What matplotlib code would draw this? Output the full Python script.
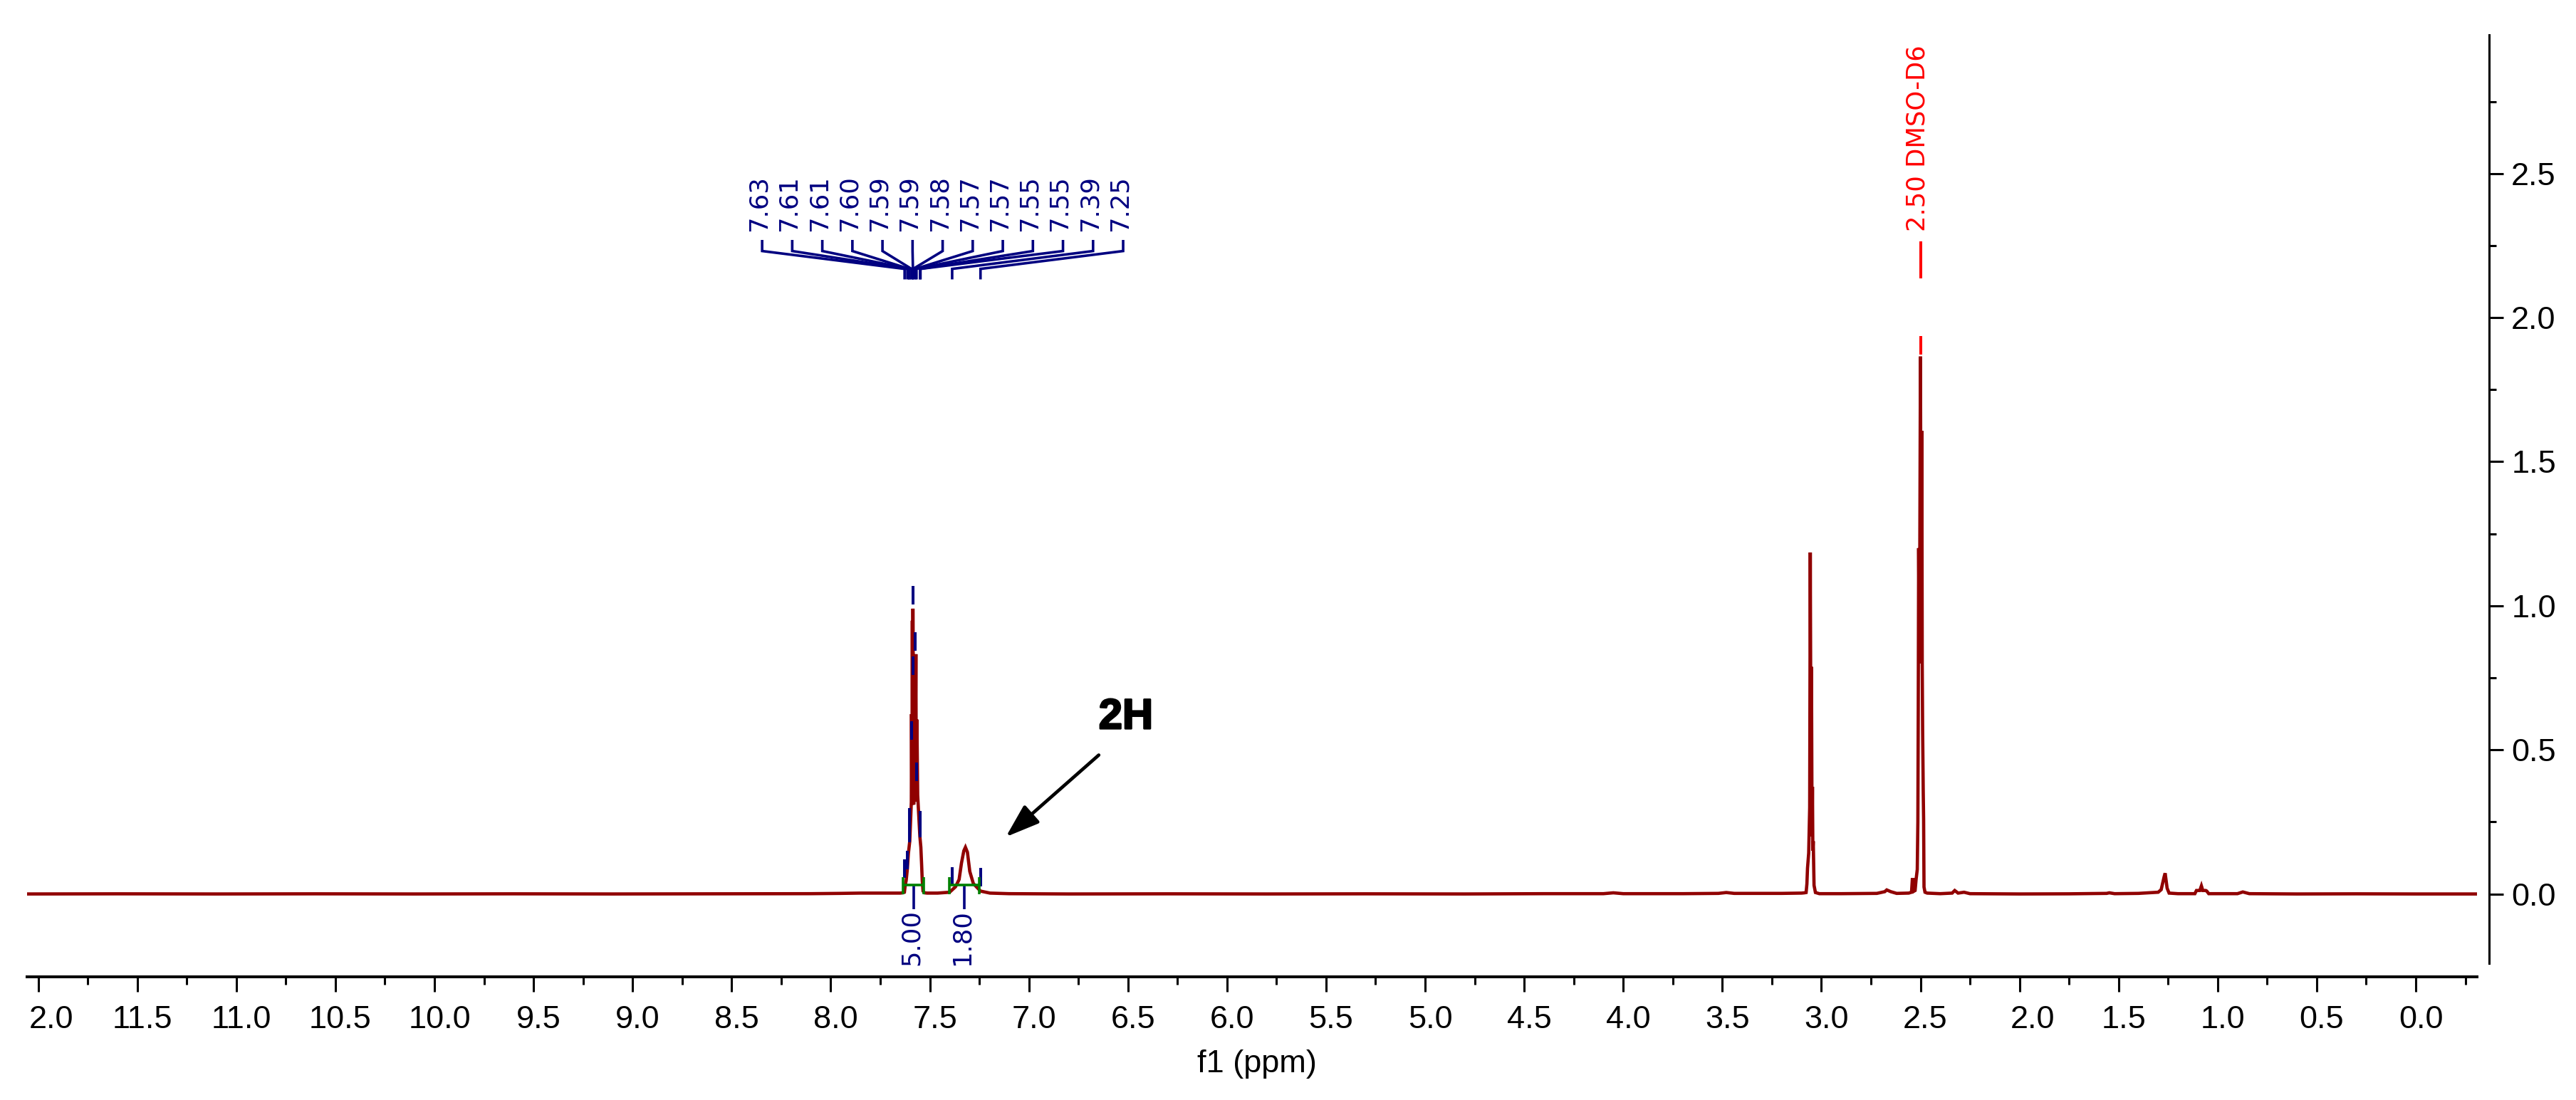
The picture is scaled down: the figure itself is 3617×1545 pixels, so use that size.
import numpy as np
import matplotlib
matplotlib.use('Agg')
import matplotlib.pyplot as plt
import matplotlib.patheffects as pe
from matplotlib.transforms import ScaledTranslation

# spectrum: ppm (falling) and intensity
base_left_ppm = [12.06, 11.6, 11.1, 10.6, 10.1, 9.6, 9.1, 8.7, 8.4, 8.1, 7.95, 7.85, 7.75, 7.68, 7.65]
base_left_y = [0.0, 0.0005, 0.0, 0.0005, 0.0, 0.0005, 0.0, 0.0005, 0.001, 0.001, 0.002, 0.003, 0.003, 0.003, 0.003]

h5_ppm = [7.635, 7.628, 7.624, 7.619, 7.613, 7.608, 7.601, 7.597, 7.593, 7.592, 7.590, 7.588, 7.586, 7.585,
          7.581, 7.577, 7.574, 7.570, 7.568, 7.565, 7.561, 7.556, 7.550, 7.545, 7.541, 7.538, 7.534, 7.527, 7.513]
h5_y = [0.004, 0.006, 0.03, 0.047, 0.088, 0.14, 0.183, 0.25, 0.319, 0.624, 0.31, 0.948, 0.31, 0.99,
        0.31, 0.817, 0.32, 0.832, 0.33, 0.605, 0.343, 0.278, 0.20, 0.162, 0.10, 0.047, 0.01, 0.004, 0.003]

h2_ppm = [7.46, 7.40, 7.37, 7.352, 7.340, 7.328, 7.320, 7.310, 7.298, 7.280, 7.244, 7.196, 7.10]
h2_y = [0.003, 0.006, 0.025, 0.05, 0.107, 0.15, 0.162, 0.145, 0.078, 0.036, 0.01, 0.003, 0.001]

base_mid_ppm = [6.8, 6.3, 5.8, 5.3, 4.8, 4.4, 4.1, 4.05, 4.0, 3.7, 3.52, 3.48, 3.44, 3.2, 3.1, 3.085]
base_mid_y = [0.0, 0.0005, 0.0, 0.0005, 0.0, 0.001, 0.001, 0.004, 0.001, 0.001, 0.002, 0.005, 0.002, 0.002, 0.003, 0.004]

h307_ppm = [3.077, 3.073, 3.070, 3.064, 3.059, 3.056, 3.052, 3.050, 3.047, 3.045, 3.043, 3.041, 3.037, 3.030, 3.01]
h307_y = [0.005, 0.035, 0.089, 0.142, 0.30, 1.185, 0.30, 0.788, 0.20, 0.372, 0.15, 0.183, 0.03, 0.005, 0.001]

gap_ppm = [2.9, 2.72, 2.68, 2.67, 2.65, 2.62, 2.57]
gap_y = [0.001, 0.002, 0.008, 0.014, 0.008, 0.002, 0.003]

dmso_ppm = [2.559, 2.545, 2.541, 2.536, 2.532, 2.527, 2.522, 2.516, 2.513, 2.511, 2.509, 2.505, 2.500,
            2.496, 2.493, 2.491, 2.489, 2.486, 2.484, 2.482, 2.477, 2.466]
dmso_y = [0.003, 0.006, 0.05, 0.05, 0.01, 0.012, 0.05, 0.085, 0.25, 0.646, 1.2, 0.80, 1.865,
          0.80, 1.607, 0.80, 0.57, 0.36, 0.26, 0.024, 0.006, 0.003]

base_right_ppm = [2.40, 2.34, 2.327, 2.31, 2.28, 2.25, 2.0, 1.75, 1.56, 1.547, 1.52, 1.40, 1.30, 1.285, 1.27, 1.265,
                  1.255, 1.245, 1.20, 1.115, 1.107, 1.09, 1.082, 1.075, 1.06, 1.055, 1.045, 0.90, 0.873, 0.84,
                  0.6, 0.3, 0.0, -0.31]
base_right_y = [0.001, 0.003, 0.012, 0.003, 0.006, 0.001, 0.0, 0.0005, 0.002, 0.004, 0.001, 0.002, 0.006, 0.015, 0.06, 0.072,
                0.02, 0.003, 0.001, 0.001, 0.012, 0.012, 0.028, 0.012, 0.012, 0.01, 0.001, 0.001, 0.007, 0.001,
                0.0, 0.0005, 0.0, 0.0]

# peak picks: labels, where each pick sits, and the height its little tick starts from
pick_labels = ['7.63', '7.61', '7.61', '7.60', '7.59', '7.59', '7.58', '7.57', '7.57', '7.55', '7.55', '7.39', '7.25']
pick_ppm = [7.627, 7.613, 7.604, 7.603, 7.592, 7.585, 7.584, 7.573, 7.567, 7.549, 7.547, 7.387, 7.244]
pick_y = [0.056, 0.085, 0.179, 0.234, 0.535, 1.005, 0.76, 0.845, 0.392, 0.224, 0.197, 0.029, 0.027]

# integrals
int_left = [7.634, 7.401]
int_right = [7.529, 7.249]
int_mark = [7.580, 7.324]
int_labels = ['5.00', '1.80']
int_label_ppm = [7.592, 7.339]

x_major = np.arange(0, 12.5, 0.5)
x_minor = np.arange(-0.25, 12.0, 0.5)
x_labels = ['%.1f' % v for v in x_major]
x_labels[-1] = '2.0'   # the leading 1 is cut off in the picture
y_major = [0.0, 0.5, 1.0, 1.5, 2.0, 2.5]
y_minor = [0.25, 0.75, 1.25, 1.75, 2.25, 2.75]

DARKRED = '#900000'
NAVY = '#000080'
GREEN = '#008000'
TICKFONT = 'Liberation Sans'

W, H = 3617, 1545
fig = plt.figure(figsize=(W / 100, H / 100), dpi=100)
ax = fig.add_axes([38 / W, 1 - 1353 / H, 3440 / W, 1304 / H])

ppm = base_left_ppm + h5_ppm + h2_ppm + base_mid_ppm + h307_ppm + gap_ppm + dmso_ppm + base_right_ppm
spec = base_left_y + h5_y + h2_y + base_mid_y + h307_y + gap_y + dmso_y + base_right_y
ax.plot(ppm, spec, color=DARKRED, lw=3.3, solid_joinstyle='miter', solid_capstyle='butt', zorder=3)

ax.set_xlim(12.056, -0.309)
ax.set_ylim(-0.2406, 2.981)

for s in ['top', 'left']:
    ax.spines[s].set_visible(False)
ax.spines['bottom'].set_position(('outward', 13.7))
ax.spines['right'].set_position(('outward', 12.2))
ax.spines['bottom'].set_linewidth(2.9)
ax.spines['right'].set_linewidth(2.2)

ax.yaxis.tick_right()
ax.set_xticks(x_major)
ax.set_xticks(x_minor, minor=True)
ax.set_xticklabels(x_labels, fontname=TICKFONT, fontsize=32.5)
ax.set_yticks(y_major)
ax.set_yticks(y_minor, minor=True)
ax.set_yticklabels(['%.1f' % v for v in y_major], fontname=TICKFONT, fontsize=32.5)
ax.tick_params(axis='x', which='major', length=15, width=2.2, pad=14)
ax.tick_params(axis='x', which='minor', length=8, width=2.2)
ax.tick_params(axis='y', which='major', length=14.5, width=2.2, pad=8)
ax.tick_params(axis='y', which='minor', length=7.5, width=2.2)

# x labels sit a little right of their ticks
for i, lab in enumerate(ax.get_xticklabels()):
    dx = 18 if lab.get_text() == '2.0' else 7
    lab.set_transform(lab.get_transform() + ScaledTranslation(dx / 100, 0, fig.dpi_scale_trans))

ax.set_xlabel('f1 (ppm)', fontname=TICKFONT, fontsize=32.5, labelpad=10)
ax.xaxis.set_label_coords(0.5020, -0.093)

# peak pick fan
fan_x = np.linspace(8.346, 6.524, len(pick_labels))
for lab, fx, p, py in zip(pick_labels, fan_x, pick_ppm, pick_y):
    ax.plot([fx, fx, p, p], [2.265, 2.231, 2.169, 2.137], color=NAVY, lw=2.6, solid_joinstyle='miter', zorder=4)
    ax.text(fx + 0.016, 2.298, lab, rotation=90, ha='center', va='bottom', color=NAVY, fontsize=25.5)
    ax.plot([p, p], [py, py + 0.064], color=NAVY, lw=2.9, solid_capstyle='butt', zorder=4)

# solvent label
ax.text(2.516, 2.298, '2.50 DMSO-D6', rotation=90, ha='center', va='bottom', color='#ff0000', fontsize=25.5)
ax.plot([2.50, 2.50], [2.265, 2.137], color='#ff0000', lw=2.9, solid_capstyle='butt')
ax.plot([2.50, 2.50], [1.937, 1.872], color='#ff0000', lw=2.9, solid_capstyle='butt')

# integrals
for l, r, m, txt, tx in zip(int_left, int_right, int_mark, int_labels, int_label_ppm):
    ax.plot([l, r], [0.03, 0.03], color=GREEN, lw=2.6, solid_capstyle='butt', zorder=5)
    ax.plot([l, l], [0.0, 0.058], color=GREEN, lw=2.6, solid_capstyle='butt', zorder=5)
    ax.plot([r, r], [0.0, 0.058], color=GREEN, lw=2.6, solid_capstyle='butt', zorder=5)
    ax.plot([m, m], [0.03, -0.053], color=NAVY, lw=2.6, solid_capstyle='butt', zorder=4)
    ax.text(tx, -0.053, txt, rotation=90, ha='center', va='top', color=NAVY, fontsize=25.5)

# 2H note
ax.annotate('', xy=(7.116, 0.198), xytext=(6.647, 0.482),
            arrowprops=dict(arrowstyle='-|>,head_length=2.9,head_width=1.0', mutation_scale=10,
                            color='black', lw=3.4, shrinkA=0, shrinkB=0))
ax.text(6.51, 0.612, '2H', ha='center', va='center', fontname=TICKFONT, fontweight='bold', fontsize=43,
        path_effects=[pe.withStroke(linewidth=1.8, foreground='black')])

plt.savefig('out.png', dpi=100)
